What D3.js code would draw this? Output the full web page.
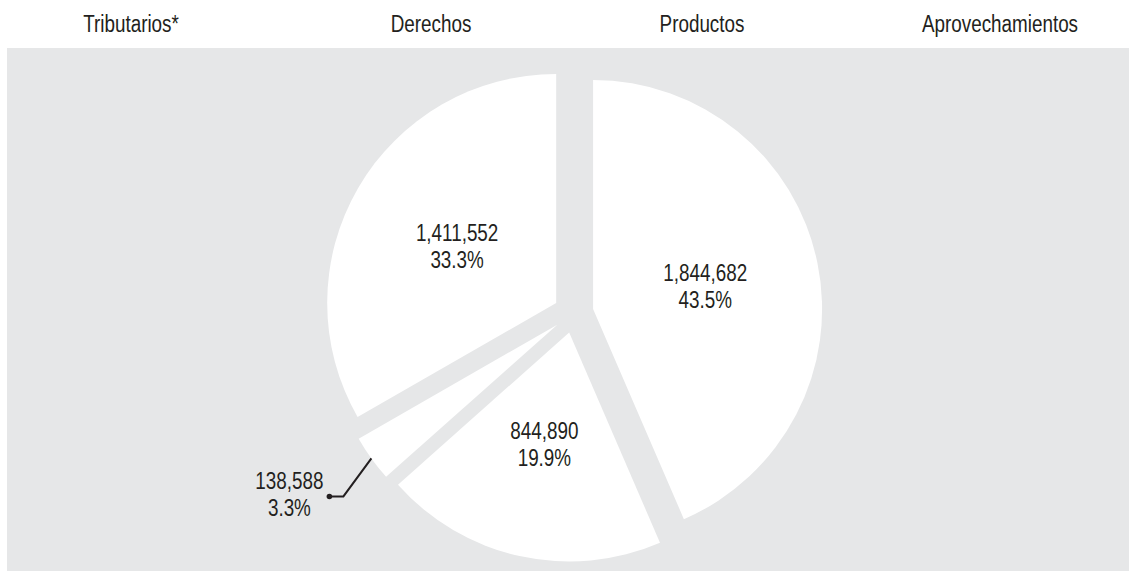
<!DOCTYPE html>
<html>
<head>
<meta charset="utf-8">
<script src="https://cdn.jsdelivr.net/npm/d3@7"></script>
<style>
	body { margin: 0; background: #fff; }
	text { font-family: "Liberation Sans Narrow", "Arial Narrow", "Liberation Sans", sans-serif; font-size: 23px; fill: #231f20; }
</style>
</head>
<body>
<svg id="chart" width="1129" height="571"></svg>
<script>
const categories = ["Tributarios*", "Derechos", "Productos", "Aprovechamientos"]
const values = [1844682, 844890, 138588, 1411552]

const width = 1129, height = 571
const cx = 573.5, cy = 313
const radius = 229
const explode = 20 //slices pushed out along their middle angle
const narrow = 0.82 //no narrow font installed, squeeze the regular one

const svg = d3.select("#chart")
const fmtVal = d3.format(",")
const fmtPct = d3.format(".1%")
const total = d3.sum(values)

svg.append("rect")
	.attr("x", 7).attr("y", 48)
	.attr("width", width - 7).attr("height", height - 48)
	.attr("fill", "#e6e7e8")

//legend: markers are white on white so only the names show
const legendX = d3.scaleOrdinal().domain(categories).range([131, 431, 702, 1000])
svg.append("g").selectAll("text")
	.data(categories)
	.join("text")
		.attr("transform", d => `translate(${legendX(d)},31.5) scale(${narrow},1)`)
		.attr("text-anchor", "middle")
		.text(d => d)

const pie = d3.pie().sort(null).value(d => d)
const arc = d3.arc().innerRadius(0).outerRadius(radius)
const arcs = pie(values)

function offset(d) {
	const mid = (d.startAngle + d.endAngle) / 2
	return [explode * Math.sin(mid), -explode * Math.cos(mid)]
}

const pieG = svg.append("g").attr("transform", `translate(${cx},${cy})`)

const slice = pieG.selectAll("g.slice")
	.data(arcs)
	.join("g")
		.classed("slice", true)
		.attr("transform", d => `translate(${offset(d)})`)

slice.append("path")
	.attr("d", arc)
	.attr("fill", "#fff")

function addLabel(sel, x, y, d) {
	const t = sel.append("text")
		.attr("text-anchor", "middle")
		.attr("transform", `translate(${x},0) scale(${narrow},1)`)
	t.append("tspan").attr("x", 0).attr("y", y - 5).text(fmtVal(d.value))
	t.append("tspan").attr("x", 0).attr("y", y + 22).text(fmtPct(d.value / total))
}

slice.each(function(d) {
	const g = d3.select(this)
	const share = d.value / total
	if (share > 0.05) {
		const [x, y] = arc.centroid(d)
		addLabel(g, x, y, d)
	} else {
		//small slice: label outside with a leader line
		const [mx, my] = arc.centroid(d)
		const outer = [mx * 2, my * 2]
		const elbow = [outer[0] - 28, outer[1] + 38]
		const end = [elbow[0] - 14, elbow[1]]
		g.append("path")
			.attr("d", d3.line()([outer, elbow, end]))
			.attr("fill", "none")
			.attr("stroke", "#231f20")
			.attr("stroke-width", 2)
		g.append("circle")
			.attr("cx", end[0]).attr("cy", end[1]).attr("r", 2.8)
			.attr("fill", "#231f20")
		addLabel(g, end[0] - 40, end[1] - 2, d)
	}
})
</script>
</body>
</html>
